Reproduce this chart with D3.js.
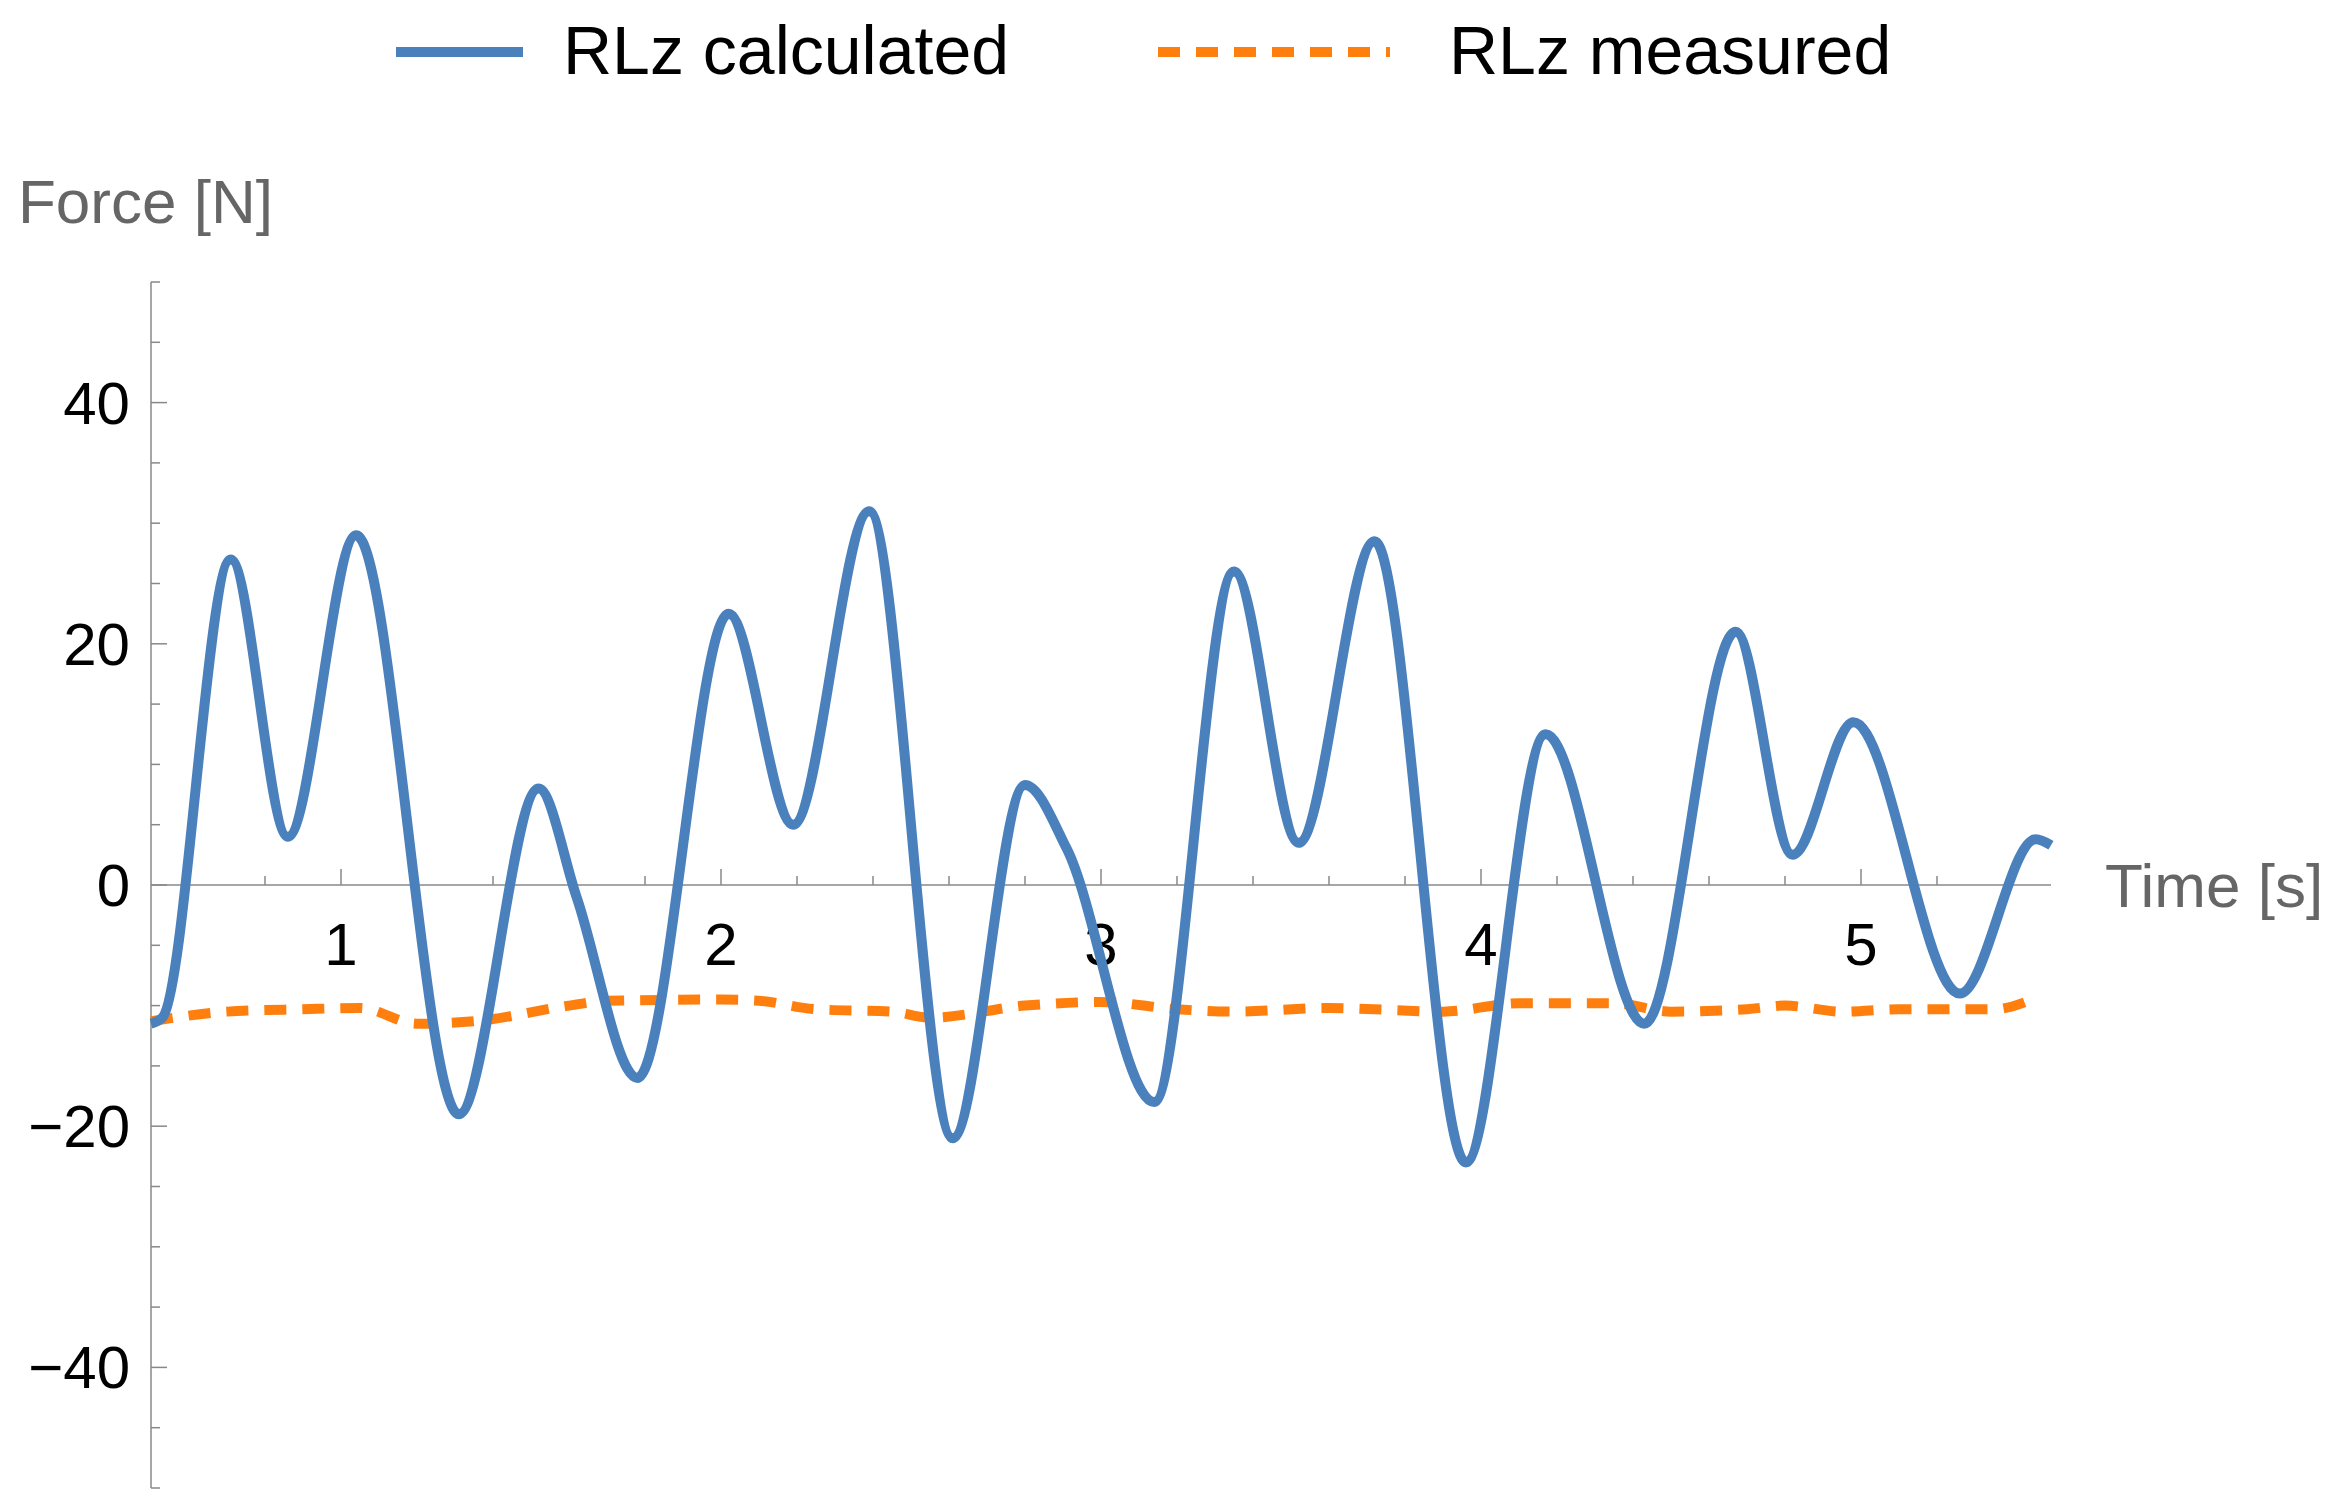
<!DOCTYPE html><html><head><meta charset="utf-8">
<script src="https://cdn.jsdelivr.net/npm/d3@7"></script>
<style>body{margin:0;background:#fff}text{font-family:"Liberation Sans",Arial,sans-serif}</style></head><body>
<svg id="c" width="2342" height="1508"></svg>
<script>
const calcT=[0.5,0.53,0.71,0.86,1.04,1.31,1.52,1.62,1.78,2.02,2.19,2.39,2.61,2.80,2.91,3.14,3.35,3.52,3.72,3.96,4.17,4.43,4.67,4.82,4.98,5.26,5.46,5.5];
const calcV=[-11.5,-11,27,4,29,-19,8,-1,-16,22.5,5,31,-21,8.3,3,-18,26,3.5,28.5,-23,12.5,-11.5,21,2.5,13.5,-9,3.8,3.3];
const measT=[0.5,0.7,0.9,1.05,1.2,1.35,1.6,1.7,2.0,2.1,2.25,2.45,2.55,2.8,3.0,3.2,3.35,3.6,3.9,4.1,4.35,4.5,4.7,4.8,4.95,5.1,5.35,5.45];
const measV=[-11.3,-10.5,-10.3,-10.2,-11.5,-11.3,-10,-9.6,-9.5,-9.6,-10.3,-10.5,-11,-10,-9.7,-10.3,-10.5,-10.2,-10.5,-9.8,-9.8,-10.5,-10.3,-10,-10.5,-10.3,-10.3,-9.5];
const xTicks=[1,2,3,4,5], yTicks=[-40,-20,0,20,40];
const svg=d3.select("#c");
const x=d3.scaleLinear().domain([0.5,5.5]).range([151,2051]);
const y=d3.scaleLinear().domain([-50,50]).range([1488,282]);
const grey="#666";
// y axis
svg.append("line").attr("x1",151).attr("x2",151).attr("y1",282).attr("y2",1488).attr("stroke","#888").attr("stroke-width",1.5);
d3.range(-50,51,5).forEach(v=>{const maj=v%20===0;svg.append("line").attr("x1",151).attr("x2",151+(maj?16:9)).attr("y1",y(v)).attr("y2",y(v)).attr("stroke","#888").attr("stroke-width",1.5);});
yTicks.forEach(v=>svg.append("text").attr("x",130).attr("y",y(v)+21).attr("text-anchor","end").attr("font-size",60).text(v<0?"−"+(-v):v));
// x axis
svg.append("line").attr("x1",151).attr("x2",2051).attr("y1",y(0)).attr("y2",y(0)).attr("stroke","#888").attr("stroke-width",1.5);
d3.range(0.6,5.5,0.2).forEach(t=>{const maj=Math.abs(t-Math.round(t))<1e-6;svg.append("line").attr("x1",x(t)).attr("x2",x(t)).attr("y1",y(0)).attr("y2",y(0)-(maj?16:9)).attr("stroke","#888").attr("stroke-width",1.5);});
xTicks.forEach(t=>svg.append("text").attr("x",x(t)).attr("y",y(0)+80).attr("text-anchor","middle").attr("font-size",60).text(t));
svg.append("text").attr("x",2105).attr("y",y(0)+22).attr("font-size",62).attr("fill",grey).text("Time [s]");
svg.append("text").attr("x",18).attr("y",223).attr("font-size",62).attr("fill",grey).text("Force [N]");
const line=d3.line().x(d=>x(d[0])).y(d=>y(d[1])).curve(d3.curveMonotoneX);
svg.append("path").datum(measT.map((t,i)=>[t,measV[i]])).attr("d",line).attr("fill","none").attr("stroke","#ff7f0e").attr("stroke-width",10).attr("stroke-dasharray","22,16");
svg.append("path").datum(calcT.map((t,i)=>[t,calcV[i]])).attr("d",line).attr("fill","none").attr("stroke","#4a81bd").attr("stroke-width",10);
// legend
svg.append("line").attr("x1",396).attr("x2",523).attr("y1",52).attr("y2",52).attr("stroke","#4a81bd").attr("stroke-width",10);
svg.append("text").attr("x",563).attr("y",74).attr("font-size",68).text("RLz calculated");
svg.append("line").attr("x1",1158).attr("x2",1390).attr("y1",52).attr("y2",52).attr("stroke","#ff7f0e").attr("stroke-width",10).attr("stroke-dasharray","22,16");
svg.append("text").attr("x",1449).attr("y",74).attr("font-size",68).text("RLz measured");
</script></body></html>
